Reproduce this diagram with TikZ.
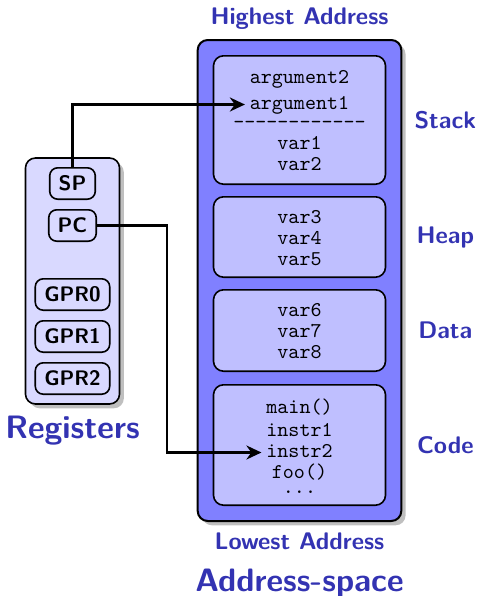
\documentclass[tikz,border=0pt]{standalone}
\usetikzlibrary{positioning, backgrounds, fit, shadows, arrows.meta}

\definecolor{structure}{rgb}{0.2,0.2,0.7}

\begin{document}
\begin{tikzpicture}[
    >={Stealth[length=7.5pt, width=7pt]},
    seg/.style={rectangle, draw, thick, fill=blue!25, rounded corners=5pt, minimum width=86pt},
    txt/.style={font=\fontsize{10.5}{10.5}\selectfont\ttfamily, inner xsep=2.5pt, inner ysep=0pt, outer sep=0pt, text height=7.5pt, text depth=3pt},
    reg/.style={rectangle, draw, thick, fill=blue!15, rounded corners=4pt, minimum width=22.7pt, minimum height=15.7pt, inner xsep=4.5pt, font=\fontsize{10.5}{10.5}\selectfont\sffamily\bfseries},
    seglabel/.style={text=structure, font=\fontsize{12}{12}\selectfont\sffamily\bfseries},
    addrlabel/.style={text=structure, font=\fontsize{12}{12}\selectfont\sffamily\bfseries},
    title/.style={text=structure, font=\fontsize{16.2}{16.2}\selectfont\sffamily\bfseries},
]
\useasboundingbox (0,0) rectangle (239pt,-298pt);

% Segments
\node [seg, minimum height=64.2pt] (stack) at (149.75pt,-60pt) {};
\node [seg, minimum height=40.2pt, below=5.5pt of stack] (heap) {};
\node [seg, minimum height=40.7pt, below=5.5pt of heap] (data) {};
\node [seg, minimum height=60.2pt, below=6pt of data] (code) {};

% Segment contents
\node [txt, below=6.5pt of stack.north] (arg2) {argument2};
\node [txt, below=2.5pt of arg2] (arg1) {argument1};
\node [txt, below=-1pt of arg1] (sep) {-{}-{}-{}-{}-{}-{}-{}-{}-{}-{}-{}-};
\node [txt, below=0pt of sep] (var1) {var1};
\node [txt, below=0pt of var1] (var2) {var2};

\node [txt, below=6pt of heap.north] (var3) {var3};
\node [txt, below=0pt of var3] (var4) {var4};
\node [txt, below=0pt of var4] (var5) {var5};

\node [txt, below=6pt of data.north] (var6) {var6};
\node [txt, below=0pt of var6] (var7) {var7};
\node [txt, below=0pt of var7] (var8) {var8};

\node [txt, below=7pt of code.north] (main) {main()};
\node [txt, below=1pt of main] (instr1) {instr1};
\node [txt, below=0pt of instr1] (instr2) {instr2};
\node [txt, below=0pt of instr2] (foo) {foo()};
\node [txt, text height=4pt, below=0.5pt of foo] (dots) {...};

% Registers
\node [reg] (sp) at (36.25pt,-91.75pt) {SP};
\node [reg, below=4.5pt of sp] (pc) {PC};
\node [reg, below=18pt of pc] (gpr0) {GPR0};
\node [reg, below=4.5pt of gpr0] (gpr1) {GPR1};
\node [reg, below=4.5pt of gpr1] (gpr2) {GPR2};

% Background
\begin{scope}[on background layer]
    \node [draw, line width=1pt, fill=blue!50, rounded corners=5pt, drop shadow, fit=(stack) (code), inner sep=7.5pt] (space) {};
    \node [draw, thick, fill=blue!15, rounded corners=5pt, drop shadow, fit=(sp) (gpr0) (gpr2), inner sep=4.5pt] (regs) {};
\end{scope}

% Labels
\node [addrlabel, above=1pt of space] (high) {Highest Address};
\node [addrlabel, below=2pt of space] (low) {Lowest Address};
\node [title, below=2.5pt of low] (asp) {Address-space};
\node [title, below=2pt of regs] (reglbl) {Registers};
\node [seglabel, xshift=21.5pt] (stacklbl) at (space.east |- stack) {Stack};
\node [seglabel, xshift=21.5pt] (heaplbl) at (space.east |- heap) {Heap};
\node [seglabel, xshift=21.5pt] (datalbl) at (space.east |- data) {Data};
\node [seglabel, xshift=21.5pt] (codelbl) at (space.east |- code) {Code};

% Lines
\draw [->, very thick] (sp.north) |- (arg1.west);
\draw [->, very thick] (pc.east) -- ([xshift=35pt]pc.east) |- (instr2.west);

\end{tikzpicture}
\end{document}
